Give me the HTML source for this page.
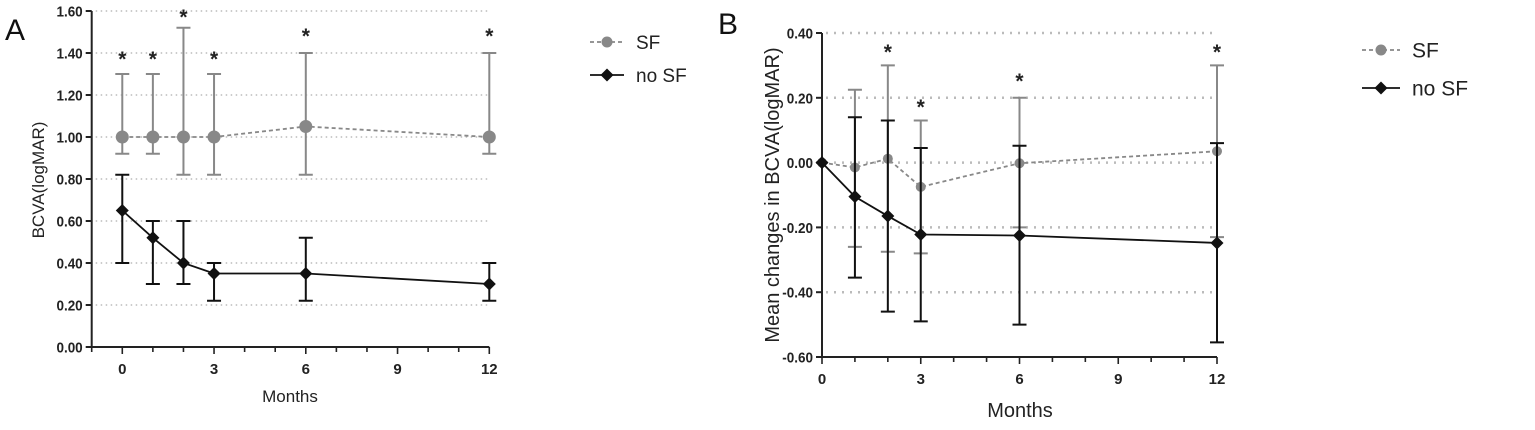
<!DOCTYPE html>
<html><head><meta charset="utf-8"><style>
body{margin:0;background:#fff;}
svg text{font-family:"Liberation Sans",sans-serif;}
</style></head><body>
<svg id="c" width="1535" height="425"></svg>
<script>
const months=[0,1,2,3,6,12];
const aSF=[1,1,1,1,1.05,1];
const aSFup=[1.3,1.3,1.52,1.3,1.4,1.4];
const aSFlo=[0.92,0.92,0.82,0.82,0.82,0.92];
const aNo=[0.65,0.52,0.40,0.35,0.35,0.30];
const aNoUp=[0.82,0.6,0.6,0.4,0.52,0.4];
const aNoLo=[0.4,0.3,0.3,0.22,0.22,0.22];
const aStarY=[1.40,1.40,1.60,1.40,1.51,1.51];
const aTicks=["0.00","0.20","0.40","0.60","0.80","1.00","1.20","1.40","1.60"];
const bMonths=[0,1,2,3,6,12];
const bSF=[0,-0.015,0.012,-0.075,-0.002,0.035];
const bSFup=[0,0.225,0.3,0.13,0.2,0.3];
const bSFlo=[0,-0.26,-0.275,-0.28,-0.2,-0.23];
const bNo=[0,-0.105,-0.165,-0.222,-0.225,-0.248];
const bNoUp=[0,0.14,0.13,0.045,0.052,0.06];
const bNoLo=[0,-0.355,-0.46,-0.49,-0.5,-0.555];
const bStarM=[2,3,6,12];
const bStarY=[0.36,0.19,0.27,0.36];
const bTicks=["-0.60","-0.40","-0.20","0.00","0.20","0.40"];
const xTicks=[0,3,6,9,12];

const svg=document.getElementById('c');
const NS='http://www.w3.org/2000/svg';
function mk(tag,attrs,parent,txt){const e=document.createElementNS(NS,tag);for(const k in attrs)e.setAttribute(k,attrs[k]);if(txt!==undefined)e.textContent=txt;(parent||svg).appendChild(e);return e;}

function panel(o){
  const g=mk('g',{});
  
  
  const X=m=>o.x0+(m-o.xmin)*(o.x1-o.x0)/(o.xmax-o.xmin);
  const Y=v=>o.y0+(v-o.ymin)*(o.y1-o.y0)/(o.ymax-o.ymin);
  o.ticks.forEach(t=>{const v=parseFloat(t);if(Math.abs(v-o.ymin)>1e-9){const l=mk('line',{x1:X(o.xmin)+4,x2:X(o.xmax),y1:Y(v),y2:Y(v),stroke:'#bbb','stroke-width':o.gw,'stroke-dasharray':o.gd},g);}});
  const ax=mk('path',{d:`M${X(o.xmin)},${Y(o.ymax)} V${Y(o.ymin)} H${X(o.xmax)}`,stroke:'#222','stroke-width':2,fill:'none'},g);
  
  o.ticks.forEach(t=>{const v=parseFloat(t);mk('line',{x1:X(o.xmin)-6,x2:X(o.xmin),y1:Y(v),y2:Y(v),stroke:'#222','stroke-width':2},g);
    const tx=mk('text',{x:X(o.xmin)-9,y:Y(v)+5.5,'text-anchor':'end','font-size':15,'font-weight':'bold',fill:'#222',transform:`translate(${(X(o.xmin)-9)*0.1},0) scale(0.9,1)`},g,t);
    });
  for(let m=Math.ceil(o.xmin);m<=o.xmax;m++){mk('line',{x1:X(m),x2:X(m),y1:Y(o.ymin),y2:Y(o.ymin)+(xTicks.includes(m)?7:5),stroke:'#222','stroke-width':1.6},g);}
  xTicks.forEach(m=>{const tx=mk('text',{x:X(m),y:Y(o.ymin)+27,'text-anchor':'middle','font-size':15,'font-weight':'bold',fill:'#222'},g,m);
    });
  const xt=mk('text',{x:o.xtx,y:o.xty,'text-anchor':'middle','font-size':o.tfs,fill:'#222'},g,'Months');
  
  const yt=mk('text',{x:0,y:0,transform:`translate(${o.ytx},${o.yty}) rotate(-90)`,'text-anchor':'middle','font-size':o.tfs,fill:'#222'},g,o.ytitle);
  
  const lt=mk('text',{x:o.lx,y:o.ly,'font-size':30,fill:'#111'},g,o.letter);
  
  function series(ms,mean,up,lo,col,dash,diamond,nm,capw){
    ms.forEach((m,i)=>{if(up[i]===lo[i])return;
      const e=mk('path',{d:`M${X(m)},${Y(up[i])} V${Y(lo[i])} M${X(m)-capw},${Y(up[i])} h${2*capw} M${X(m)-capw},${Y(lo[i])} h${2*capw}`,stroke:col,'stroke-width':2,fill:'none'},g);
      });
    const p=mk('polyline',{points:ms.map((m,i)=>X(m)+','+Y(mean[i])).join(' '),stroke:col,'stroke-width':1.8,fill:'none','stroke-dasharray':dash},g);
    
    ms.forEach((m,i)=>{let mkr;
      if(diamond){const cx=X(m),cy=Y(mean[i]),r=6.5;mkr=mk('polygon',{points:`${cx},${cy-r} ${cx+r},${cy} ${cx},${cy+r} ${cx-r},${cy}`,fill:col},g);}
      else mkr=mk('circle',{cx:X(m),cy:Y(mean[i]),r:o.cr,fill:col},g);
      });
  }
  series(o.ms,o.sf,o.sfu,o.sfl,'#888','4,3',false,'sf',7);
  series(o.ms,o.no,o.nou,o.nol,'#111','',true,'no-sf',7);
  o.starM.forEach((m,i)=>{const s=mk('text',{x:X(m),y:Y(o.starY[i])+13,'text-anchor':'middle','font-size':21,'font-weight':'bold',fill:'#222'},g,'*');
    });
  const L=o.leg;
  const l1=mk('g',{},g);
  mk('line',{x1:L.x,x2:L.x+L.w,y1:L.y1,y2:L.y1,stroke:'#888','stroke-width':1.8,'stroke-dasharray':'4,3'},l1);
  mk('circle',{cx:L.x+L.w/2,cy:L.y1,r:5.5,fill:'#888'},l1);
  mk('text',{x:L.x+L.w+12,y:L.y1+L.fs*0.36,'font-size':L.fs,fill:'#222'},l1,'SF');
  const l2=mk('g',{},g);
  mk('line',{x1:L.x,x2:L.x+L.w,y1:L.y2,y2:L.y2,stroke:'#111','stroke-width':1.8},l2);
  const cx=L.x+L.w/2;mk('polygon',{points:`${cx},${L.y2-6.5} ${cx+6.5},${L.y2} ${cx},${L.y2+6.5} ${cx-6.5},${L.y2}`,fill:'#111'},l2);
  mk('text',{x:L.x+L.w+12,y:L.y2+L.fs*0.36,'font-size':L.fs,fill:'#222'},l2,'no SF');
}
panel({name:'panel-a',x0:91.7,x1:489.3,xmin:-1,xmax:12,y0:347,y1:11,ymin:0,ymax:1.6,ticks:aTicks,
  ms:months,sf:aSF,sfu:aSFup,sfl:aSFlo,no:aNo,nou:aNoUp,nol:aNoLo,starM:months,starY:aStarY,cr:6.5,
  gw:1.5,gd:'1.5,3.5',tfs:17,xtx:290,xty:402,ytx:44,yty:180,ytitle:'BCVA(logMAR)',letter:'A',lx:5,ly:40,
  leg:{x:590,w:34,y1:42,y2:75,fs:19}});
panel({name:'panel-b',x0:822,x1:1217,xmin:0,xmax:12,y0:357,y1:33,ymin:-0.6,ymax:0.4,ticks:bTicks,
  ms:bMonths,sf:bSF,sfu:bSFup,sfl:bSFlo,no:bNo,nou:bNoUp,nol:bNoLo,starM:bStarM,starY:bStarY,cr:5,
  gw:2.5,gd:'2,6',tfs:20,xtx:1020,xty:417,ytx:779,yty:195,ytitle:'Mean changes in BCVA(logMAR)',letter:'B',lx:718,ly:34,
  leg:{x:1362,w:38,y1:50,y2:88,fs:21}});
</script>
</body></html>
